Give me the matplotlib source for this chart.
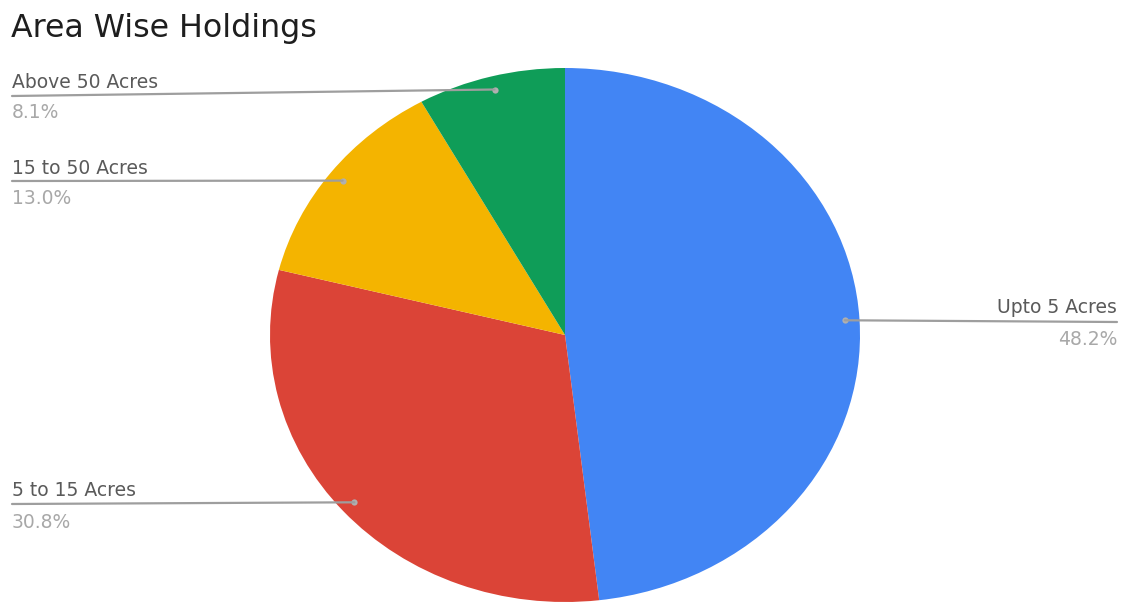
import matplotlib
matplotlib.use("Agg")
import matplotlib.pyplot as plt
import numpy as np

plt.rcParams['font.family'] = ['DejaVu Sans']

categories = ["Upto 5 Acres", "5 to 15 Acres", "15 to 50 Acres", "Above 50 Acres"]
values = [48.2, 30.8, 13.0, 8.1]
pct_labels = ["48.2%", "30.8%", "13.0%", "8.1%"]
colors = ["#4285F4", "#DB4437", "#F4B400", "#0F9D58"]

W, H = 1124, 603
fig = plt.figure(figsize=(W / 100, H / 100), dpi=100)
fig.patch.set_facecolor("white")

def fx(px):
    return px / W

def fy(py):
    return 1 - py / H

# pie axes box (pixels): x 270..860, y 68..602
ax = fig.add_axes([fx(270), fy(602), (860 - 270) / W, (602 - 68) / H])
wedges, _ = ax.pie(values, colors=colors, startangle=90, counterclock=False,
                   radius=1.0, wedgeprops=dict(linewidth=0))
ax.set_aspect('auto')
ax.set_xlim(-1, 1)
ax.set_ylim(-1, 1)
ax.axis('off')

fig.text(fx(11), fy(37), "Area Wise Holdings", fontsize=22.8, color="#1e1e1e",
         ha='left', va='baseline')

# label layout (pixels): (text x, name baseline y, line y at text end, pct baseline y, ha)
layout = {
    "Upto 5 Acres": (1117, 313, 322, 345, 'right'),
    "5 to 15 Acres": (12, 496, 504, 528, 'left'),
    "15 to 50 Acres": (12, 174, 181, 204, 'left'),
    "Above 50 Acres": (12, 88, 96, 118, 'left'),
}

total = sum(values)
cum = 0.0
for cat, v, pl in zip(categories, values, pct_labels):
    mid = cum + v / 2
    cum += v
    ang = np.deg2rad(90 - 360 * mid / total)
    dx, dy = 0.95 * np.cos(ang), 0.95 * np.sin(ang)
    tx, ny, ly, py, ha = layout[cat]
    ax.annotate("", xy=(dx, dy), xycoords='data',
                xytext=(fx(tx), fy(ly)), textcoords='figure fraction',
                arrowprops=dict(arrowstyle='-', color="#9e9e9e", lw=1.6,
                                shrinkA=0, shrinkB=0))
    ax.plot([dx], [dy], 'o', color="#b0b0b0", markersize=4.5, clip_on=False,
            markeredgewidth=0)
    fig.text(fx(tx), fy(ny), cat, fontsize=13.5, color="#5a5a5a", ha=ha, va='baseline')
    fig.text(fx(tx), fy(py), pl, fontsize=13.5, color="#a8a8a8", ha=ha, va='baseline')

fig.savefig("out.png", dpi=100)
